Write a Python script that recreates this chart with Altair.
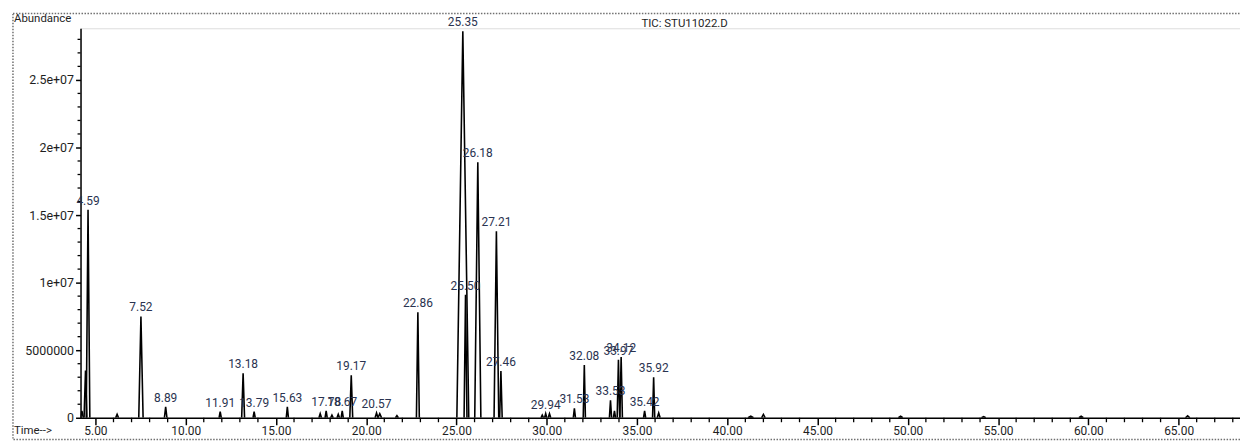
import altair as alt
import pandas as pd

# ---- data ----
peak_times = [4.59, 7.52, 8.89, 11.91, 13.18, 13.79, 15.63, 17.78, 18.67, 19.17,
              20.57, 22.86, 25.35, 25.50, 26.18, 27.21, 27.46, 29.94, 31.53, 32.08,
              33.53, 33.97, 34.12, 35.42, 35.92]
peak_labels = ["4.59", "7.52", "8.89", "11.91", "13.18", "13.79", "15.63", "17.78", "18.67", "19.17",
               "20.57", "22.86", "25.35", "25.50", "26.18", "27.21", "27.46", "29.94", "31.53", "32.08",
               "33.53", "33.97", "34.12", "35.42", "35.92"]
peak_heights = [15.4e6, 7.5e6, 0.8e6, 0.45e6, 3.3e6, 0.45e6, 0.8e6, 0.5e6, 0.5e6, 3.15e6,
                0.35e6, 7.8e6, 28.6e6, 9.1e6, 18.9e6, 13.8e6, 3.45e6, 0.3e6, 0.7e6, 3.9e6,
                1.3e6, 4.3e6, 4.5e6, 0.5e6, 3.0e6]
peak_halfwidths = [0.10, 0.12, 0.07, 0.06, 0.08, 0.06, 0.06, 0.06, 0.06, 0.08,
                   0.08, 0.08, 0.33, 0.08, 0.17, 0.13, 0.07, 0.06, 0.06, 0.06,
                   0.06, 0.07, 0.07, 0.06, 0.06]

small_times = [4.25, 4.45, 6.2, 17.45, 18.1, 18.45, 20.75, 21.7, 29.75, 30.15,
               33.75, 36.2, 41.3, 42.0, 49.6, 54.2, 59.6, 65.5]
small_heights = [0.5e6, 3.5e6, 0.25e6, 0.3e6, 0.2e6, 0.25e6, 0.3e6, 0.15e6, 0.2e6, 0.3e6,
                 0.5e6, 0.35e6, 0.12e6, 0.25e6, 0.12e6, 0.08e6, 0.12e6, 0.15e6]
small_halfwidths = [0.08, 0.08, 0.08, 0.07, 0.07, 0.07, 0.1, 0.08, 0.07, 0.07,
                    0.06, 0.08, 0.15, 0.1, 0.12, 0.12, 0.12, 0.12]

x_major = [5, 10, 15, 20, 25, 30, 35, 40, 45, 50, 55, 60, 65]
x_minor = [t for t in range(5, 69) if t % 5 != 0]
y_major = [0, 5000000, 10000000, 15000000, 20000000, 25000000]
y_major_labels = ["0", "5000000", "1e+07", "1.5e+07", "2e+07", "2.5e+07"]
y_minor = [v * 1000000 for v in range(1, 29) if v % 5 != 0]

FONT = "Roboto"
W, H = 1167, 392

# ---- tables built from the arrays ----
rows = []
pid = 0
for t, h, w in zip(peak_times + small_times, peak_heights + small_heights,
                   peak_halfwidths + small_halfwidths):
    rows += [{"t": t - w, "a": 0, "pid": pid, "k": 0},
             {"t": t, "a": h, "pid": pid, "k": 1},
             {"t": t + w, "a": 0, "pid": pid, "k": 2}]
    pid += 1
trace = pd.DataFrame(rows)
labels = pd.DataFrame({"t": peak_times, "a": peak_heights, "label": peak_labels})

label_expr = ""
for v, s in zip(y_major, y_major_labels):
    label_expr += f"datum.value == {v} ? '{s}' : "
label_expr += "''"

xscale = alt.Scale(domain=[4.174, 68.40], nice=False, zero=False)
yscale = alt.Scale(domain=[0, 2.882e7], nice=False)

x_enc = alt.X("t:Q", scale=xscale, axis=alt.Axis(
    values=x_major, format=".2f", title=None, grid=False, tickSize=7, tickWidth=1.5,
    tickColor="black", domainColor="black", domainWidth=1.5, labelFont=FONT,
    labelFontSize=12, labelColor="#1e1e1e", labelPadding=1, labelFlush=False))
y_enc = alt.Y("a:Q", scale=yscale, axis=alt.Axis(
    values=y_major, labelExpr=label_expr, title=None, grid=False, tickSize=5, tickWidth=1.5,
    tickColor="black", domainColor="black", domainWidth=1.5, labelFont=FONT,
    labelFontSize=12.5, labelColor="#1e1e1e", labelPadding=2))

line = alt.Chart(trace).mark_line(color="black", strokeWidth=1.6, clip=True).encode(
    x=x_enc, y=y_enc, detail="pid:N", order="k:Q")

peak_text = alt.Chart(labels).mark_text(
    baseline="bottom", align="center", dy=-2, fontSize=12, font=FONT, color="#2a3350"
).encode(x="t:Q", y="a:Q", text="label:N")

xminor = alt.Chart(pd.DataFrame({"t": x_minor})).mark_rule(color="black", strokeWidth=1.3).encode(
    x="t:Q", y=alt.value(H), y2=alt.value(H + 4.5))
yminor = alt.Chart(pd.DataFrame({"a": y_minor})).mark_rule(color="black", strokeWidth=1.3).encode(
    y="a:Q", x=alt.value(-3), x2=alt.value(0))

one = pd.DataFrame({"z": [0]})
frame = alt.Chart(one).mark_rect(filled=False, stroke="#707070", strokeDash=[1.5, 1.5],
                                 strokeWidth=1.5).encode(
    x=alt.value(-68), x2=alt.value(W + 20), y=alt.value(-15), y2=alt.value(414))

abundance = alt.Chart(one).mark_text(align="left", baseline="middle", fontSize=11.5,
                                     font=FONT, color="#1e1e1e").encode(
    x=alt.value(-67), y=alt.value(-9), text=alt.value("Abundance"))
tic = alt.Chart(one).mark_text(align="center", baseline="middle", fontSize=11.5,
                               font=FONT, color="#1e1e1e").encode(
    x=alt.value(608), y=alt.value(-4), text=alt.value("TIC: STU11022.D"))
timel = alt.Chart(one).mark_text(align="left", baseline="middle", fontSize=11.5,
                                 font=FONT, color="#1e1e1e").encode(
    x=alt.value(-67), y=alt.value(405), text=alt.value("Time-->"))

chart = alt.layer(frame, line, xminor, yminor, peak_text, abundance, tic, timel).properties(
    width=W, height=H,
    padding={"left": 73, "top": 19, "right": 0, "bottom": 25},
    autosize=alt.AutoSizeParams(type="none"),
).configure_view(stroke=None).configure(background="white")

chart.save("out.html", embed_options={"renderer": "svg", "actions": False})
